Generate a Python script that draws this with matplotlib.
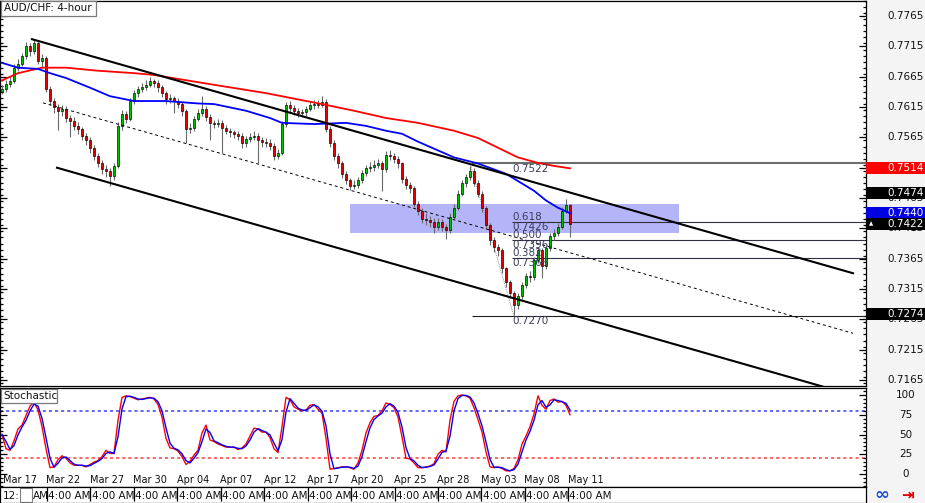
import numpy as np
import pandas as pd
import matplotlib
matplotlib.use("Agg")
import matplotlib.pyplot as plt
from matplotlib.patches import Rectangle
from matplotlib.transforms import blended_transform_factory

plt.rcParams['font.family'] = ['DejaVu Sans']

# ---- данные (цены в пунктах *1e4) ----
first_open = 7640
close_pips = [7645, 7653, 7658, 7680, 7686, 7699, 7716, 7707, 7721, 7691,
              7696, 7645, 7625, 7615, 7609, 7612, 7597, 7592, 7584, 7579,
              7568, 7560, 7548, 7535, 7523, 7513, 7510, 7502, 7518, 7584,
              7604, 7596, 7625, 7638, 7645, 7648, 7652, 7658, 7655, 7648,
              7638, 7628, 7630, 7625, 7620, 7609, 7579, 7581, 7596, 7605,
              7612, 7599, 7589, 7587, 7589, 7581, 7576, 7574, 7571, 7568,
              7555, 7563, 7566, 7568, 7560, 7558, 7556, 7551, 7535, 7540,
              7587, 7619, 7614, 7609, 7605, 7607, 7612, 7619, 7620, 7618,
              7624, 7579, 7556, 7535, 7522, 7505, 7494, 7485, 7487, 7495,
              7507, 7515, 7516, 7520, 7522, 7513, 7536, 7535, 7530, 7522,
              7497, 7487, 7481, 7456, 7444, 7431, 7428, 7426, 7418, 7425,
              7418, 7412, 7434, 7449, 7472, 7489, 7499, 7510, 7490, 7472,
              7448, 7420, 7395, 7384, 7379, 7349, 7326, 7308, 7288, 7303,
              7321, 7336, 7334, 7362, 7379, 7353, 7382, 7402, 7407, 7418,
              7444, 7453, 7422]
high_pips = [7652, 7660, 7665, 7686, 7694, 7705, 7722, 7720, 7727, 7724,
             7703, 7699, 7650, 7630, 7620, 7619, 7616, 7602, 7598, 7590,
             7583, 7573, 7565, 7552, 7540, 7528, 7520, 7515, 7522, 7590,
             7610, 7608, 7630, 7643, 7650, 7655, 7660, 7665, 7662, 7660,
             7652, 7642, 7636, 7634, 7630, 7624, 7612, 7588, 7600, 7612,
             7633, 7616, 7603, 7594, 7595, 7593, 7585, 7580, 7578, 7575,
             7572, 7568, 7572, 7575, 7572, 7566, 7564, 7562, 7555, 7546,
             7592, 7624, 7625, 7618, 7614, 7612, 7616, 7624, 7626, 7627,
             7634, 7628, 7584, 7560, 7540, 7526, 7510, 7498, 7494, 7500,
             7512, 7520, 7524, 7528, 7530, 7526, 7542, 7545, 7540, 7534,
             7525, 7502, 7492, 7485, 7460, 7448, 7440, 7436, 7432, 7432,
             7430, 7422, 7440, 7455, 7478, 7495, 7505, 7518, 7514, 7494,
             7476, 7452, 7424, 7400, 7390, 7383, 7352, 7330, 7312, 7308,
             7326, 7342, 7344, 7368, 7385, 7383, 7388, 7408, 7414, 7424,
             7450, 7464, 7456]
low_pips = [7636, 7640, 7648, 7655, 7675, 7682, 7695, 7700, 7703, 7686,
            7680, 7640, 7618, 7605, 7578, 7600, 7590, 7565, 7577, 7570,
            7560, 7552, 7540, 7528, 7516, 7505, 7500, 7485, 7494, 7514,
            7578, 7588, 7592, 7620, 7632, 7640, 7643, 7648, 7648, 7640,
            7632, 7620, 7622, 7605, 7613, 7600, 7556, 7572, 7576, 7592,
            7600, 7592, 7560, 7580, 7582, 7540, 7570, 7566, 7564, 7560,
            7548, 7550, 7558, 7560, 7522, 7550, 7550, 7545, 7528, 7530,
            7536, 7582, 7606, 7602, 7598, 7598, 7600, 7608, 7612, 7613,
            7615, 7574, 7550, 7528, 7515, 7498, 7488, 7478, 7480, 7482,
            7490, 7502, 7508, 7510, 7514, 7477, 7508, 7528, 7522, 7515,
            7490, 7480, 7474, 7450, 7437, 7424, 7420, 7418, 7407, 7412,
            7410, 7398, 7408, 7430, 7445, 7468, 7484, 7495, 7485, 7466,
            7442, 7414, 7388, 7376, 7370, 7342, 7318, 7300, 7272, 7282,
            7298, 7316, 7326, 7330, 7358, 7333, 7348, 7378, 7396, 7402,
            7414, 7440, 7400]

ma200_bar = [0, 4, 10, 16, 24, 33, 38, 50, 66, 80, 88, 96, 104, 113, 119, 124, 129, 134, 138, 142]
ma200_pips = [7659, 7671, 7680, 7680, 7675, 7671, 7668, 7655, 7638, 7620,
              7609, 7597, 7589, 7576, 7564, 7548, 7532, 7523, 7518, 7514]
ma100_bar = [0, 4, 9, 12, 16, 22, 27, 33, 41, 49, 53, 61, 67, 70, 78, 86, 91, 96, 100,
             104, 113, 119, 126, 133, 136, 139, 142]
ma100_pips = [7688, 7680, 7678, 7671, 7663, 7647, 7633, 7625, 7625, 7621, 7620, 7609, 7597,
              7589, 7587, 7589, 7584, 7576, 7571, 7558, 7532, 7522, 7505, 7477, 7461, 7449, 7440]

stoch_k = [50, 32, 30, 42, 57, 62, 74, 86, 91, 81, 60, 32, 8, 9, 18, 23, 20, 14, 11, 11,
           11, 9, 12, 15, 17, 22, 30, 26, 26, 68, 97, 99, 98, 96, 94, 95, 96, 97, 95, 88,
           72, 45, 33, 32, 29, 22, 12, 16, 24, 30, 52, 62, 43, 41, 38, 36, 34, 34, 34, 31,
           33, 38, 48, 58, 57, 53, 53, 46, 32, 27, 60, 97, 94, 85, 82, 80, 81, 87, 88, 82,
           77, 45, 6, 7, 8, 9, 9, 8, 6, 14, 30, 52, 65, 73, 74, 80, 90, 88, 84, 72,
           47, 20, 19, 14, 8, 8, 9, 10, 13, 25, 30, 28, 68, 92, 99, 100, 99, 96, 84, 69,
           53, 28, 9, 8, 9, 7, 4, 4, 7, 18, 38, 48, 60, 76, 99, 87, 82, 93, 95, 91,
           92, 87, 75]

# линии канала: (бар, цена) концы
chan_upper = ([7.5, 212.75], [7727, 7341])
chan_mid = ([10.25, 212.75], [7622, 7242])
chan_lower = ([13.75, 205.75], [7515, 7153])

# Фибоначчи
fib_hi_bar, fib_hi = 117, 7522
fib_lo_bar, fib_lo = 128, 7270
fib_levels = [0.382, 0.500, 0.618]
zone = (87, 169.25, 7408, 7456)

price_ticks = [0.7765, 0.7715, 0.7665, 0.7615, 0.7565, 0.7515, 0.7465, 0.7415,
               0.7365, 0.7315, 0.7265, 0.7215, 0.7165]
price_tags = [(0.7514, '#ff0000'), (0.7474, '#000000'), (0.7440, '#0000e0'),
              (0.7422, '#000000'), (0.7274, '#000000')]
date_labels = ['Mar 17', 'Mar 22', 'Mar 27', 'Mar 30', 'Apr 04', 'Apr 07', 'Apr 12',
               'Apr 17', 'Apr 20', 'Apr 25', 'Apr 28', 'May 03', 'May 08', 'May 11']

# ---- фигура ----
W, H = 925, 503
fig = plt.figure(figsize=(W / 100, H / 100), dpi=100, facecolor='#f4f4f4')


def fx(px):
    return px / W


def fy(py):
    return 1 - py / H


ax = fig.add_axes([0, fy(386), fx(866), 385 / H])
ax_st = fig.add_axes([0, fy(487), fx(866), 99 / H])
ax_sp = fig.add_axes([0, 0, fx(866), fy(487)])

for a in (ax, ax_st, ax_sp):
    a.set_xlim(-0.5, 216)
    a.set_facecolor('white')
    a.set_xticks([])
    for s in a.spines.values():
        s.set_color('black')
        s.set_linewidth(0.9)

ax.set_ylim(0.7155, 0.7788)
ax_st.set_ylim(-16.5, 108.9)

# свечи
n = len(close_pips)
x = np.arange(n)
c = np.array(close_pips) / 1e4
o = np.array([first_open] + close_pips[:-1]) / 1e4
h = np.array(high_pips) / 1e4
l = np.array(low_pips) / 1e4
up = c >= o
ax.vlines(x, l, h, color='#6a6a6a', lw=0.8, zorder=3)
bottom = np.minimum(o, c)
height = np.maximum(np.abs(c - o), 0.00006)
ax.bar(x[up], height[up], bottom=bottom[up], width=0.72, color='#00c000',
       edgecolor='black', lw=0.45, zorder=4)
ax.bar(x[~up], height[~up], bottom=bottom[~up], width=0.72, color='#e00000',
       edgecolor='black', lw=0.45, zorder=4)

# скользящие средние
ax.plot(ma200_bar, np.array(ma200_pips) / 1e4, color='#ff0000', lw=1.3, zorder=5)
ax.plot(ma100_bar, np.array(ma100_pips) / 1e4, color='#0000ff', lw=1.3, zorder=5)

# канал
ax.plot(chan_upper[0], np.array(chan_upper[1]) / 1e4, color='black', lw=1.5, zorder=6)
ax.plot(chan_lower[0], np.array(chan_lower[1]) / 1e4, color='black', lw=1.5, zorder=6)
ax.plot(chan_mid[0], np.array(chan_mid[1]) / 1e4, color='black', lw=0.7,
        ls=(0, (3, 3)), zorder=6)

# зона
ax.add_patch(Rectangle((zone[0], zone[2] / 1e4), zone[1] - zone[0], (zone[3] - zone[2]) / 1e4,
                       facecolor='#b4b4f8', edgecolor='none', zorder=1))

# фибо
fib_col = '#3c3c5a'
ax.plot([fib_hi_bar, fib_lo_bar], [fib_hi / 1e4, fib_lo / 1e4], color='#909090',
        lw=0.7, ls=(0, (1, 1)), zorder=2)
ax.hlines(fib_hi / 1e4, fib_hi_bar + 0.5, 216, color='#6e6e6e', lw=1.5, zorder=2)
ax.hlines(fib_lo / 1e4, fib_hi_bar + 0.5, 216, color='#202020', lw=0.8, zorder=2)
lab_x = fib_lo_bar - 0.5
ax.text(lab_x, fib_hi / 1e4 - 0.00003, '%.4f' % (fib_hi / 1e4), fontsize=7.5,
        color=fib_col, va='top', ha='left', zorder=7)
ax.text(lab_x, fib_lo / 1e4 - 0.00003, '%.4f' % (fib_lo / 1e4), fontsize=7.5,
        color=fib_col, va='top', ha='left', zorder=7)
for lv in fib_levels:
    p = (fib_lo + (fib_hi - fib_lo) * lv) / 1e4
    ax.hlines(p, lab_x, 216, color='#303040', lw=0.8, zorder=2)
    ax.text(lab_x, p + 0.00004, '%.3f' % lv, fontsize=7.5, color=fib_col,
            va='bottom', ha='left', zorder=7)
    ax.text(lab_x, p - 0.00003, '%.4f' % p, fontsize=7.5, color=fib_col,
            va='top', ha='left', zorder=7)

# стохастик
k = pd.Series(stoch_k, dtype=float)
d = k.rolling(2, min_periods=1).mean()
ax_st.axhline(80, color='#3a3aff', lw=1.1, ls=(0, (2, 2)), zorder=1)
ax_st.axhline(20, color='#ff3a3a', lw=1.1, ls=(0, (2, 2)), zorder=1)
ax_st.plot(x, k, color='#ff0000', lw=1.0, zorder=3)
ax_st.plot(x, d, color='#0000ff', lw=1.0, zorder=4)

# деления
ax.set_yticks(price_ticks)
ax.set_yticks(np.arange(0.7160, 0.7790, 0.001), minor=True)
ax_st.set_yticks([0, 25, 50, 75, 100])
ax_st.set_yticks(np.arange(-15, 110, 5), minor=True)
for a in (ax, ax_st):
    a.tick_params(axis='y', which='both', left=True, right=True, direction='in',
                  labelleft=False, labelright=False, color='black', width=0.9)
    a.tick_params(axis='y', which='major', length=5)
    a.tick_params(axis='y', which='minor', length=2.5)
ax_sp.set_yticks([])

tr_main = blended_transform_factory(fig.transFigure, ax.transData)
tr_st = blended_transform_factory(fig.transFigure, ax_st.transData)
for p in price_ticks:
    ax.text(fx(887), p, '%.4f' % p, transform=tr_main, fontsize=7.5, va='center',
            ha='left', clip_on=False, color='#111111')
for v in [0, 25, 50, 75, 100]:
    ax_st.text(fx(906), v, str(v), transform=tr_st, fontsize=7.5, va='center',
               ha='center', clip_on=False, color='#111111')

tag_h = 12 * 0.0633 / 385
for p, col in price_tags:
    ax.add_patch(Rectangle((fx(866), p - tag_h / 2), fx(59), tag_h, transform=tr_main,
                           facecolor=col, edgecolor='none', clip_on=False, zorder=20))
    ax.text(fx(887), p, '%.4f' % p, transform=tr_main, fontsize=7.5, va='center',
            ha='left', color='white', clip_on=False, zorder=21)
ax.text(fx(871), 0.7422, '\u25b2', transform=tr_main, fontsize=4, va='center',
        ha='center', color='white', clip_on=False, zorder=21)

# подписи дат
date_step = 10.86
for j, lab in enumerate(date_labels):
    ax_st.text(0.25 + j * date_step, -8, lab, fontsize=7, va='center', ha='left',
               color='#111111', zorder=5)

# нижняя полоса времени
ax_sp.set_ylim(0, 1)
ax_sp.text(0.25, 0.45, '12:', fontsize=7.5, va='center', ha='left', color='#111111')
ax_sp.add_patch(Rectangle((4.6, 0.08), 3.0, 0.84, facecolor='white',
                          edgecolor='#808080', lw=0.8))
ax_sp.text(7.8, 0.45, 'AM', fontsize=7.5, va='center', ha='left', color='#111111')
for j in range(13):
    sx = 11.25 + j * date_step
    ax_sp.vlines(sx, 0.15, 1, color='black', lw=0.9)
    ax_sp.text(sx + 0.3, 0.45, '4:00 AM', fontsize=7.5, va='center', ha='left',
               color='#111111')

# заголовки
fig.patches.append(Rectangle((fx(1), fy(16)), fx(95), 15 / H, transform=fig.transFigure,
                             facecolor='white', edgecolor='#7a7a7a', lw=0.9, zorder=10))
fig.text(fx(4), fy(8.5), 'AUD/CHF: 4-hour', fontsize=7.5, va='center', ha='left',
         color='#111111', zorder=11)
fig.patches.append(Rectangle((fx(1), fy(403)), fx(56), 14 / H, transform=fig.transFigure,
                             facecolor='white', edgecolor='#7a7a7a', lw=0.9, zorder=10))
fig.text(fx(3), fy(396), 'Stochastic', fontsize=7.5, va='center', ha='left',
         color='#111111', zorder=11)

# значки справа внизу
fig.text(fx(882), fy(495), '\u221e', fontsize=13, fontweight='bold', va='center',
         ha='center', color='#1e50d8')
fig.text(fx(907), fy(495), '\u21e5', fontsize=11, fontweight='bold', va='center',
         ha='center', color='#e00000')

fig.savefig('out.png', dpi=100, facecolor=fig.get_facecolor())
